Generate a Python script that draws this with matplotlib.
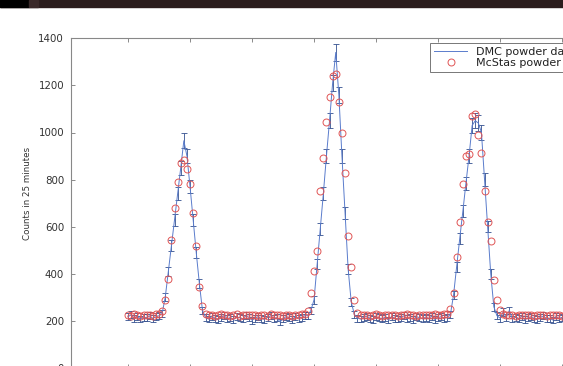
import numpy as np
import matplotlib
matplotlib.use("Agg")
import matplotlib.pyplot as plt
from matplotlib.patches import Rectangle

# scan grid: 2theta from 40.00 in steps of 0.05 deg
two_theta_start = 40.0
two_theta_step = 0.05

# DMC measured counts (25 min per point)
dmc_counts = [
    218, 226, 212, 220, 208, 216, 214, 221, 210, 218,
    222, 232, 300, 410, 520, 630, 740, 850, 965, 900, 770, 630, 490, 360, 245, 215,
    208, 219, 212, 205, 216, 222, 210, 214, 206, 218, 213, 209, 221, 215, 203, 212,
    218, 210, 207, 216, 222, 211, 214, 196, 209, 218, 213, 205, 219, 212, 216, 222,
    222, 245, 290, 440, 590, 740, 900, 1050, 1210, 1340, 1160, 900, 660, 420, 280, 228, 212,
    208, 215, 220, 211, 206, 218, 213, 209, 216, 204, 219, 212, 208, 215, 221, 210,
    213, 207, 218, 214, 209, 216, 211, 220, 206, 214, 218, 212,
    215, 228, 310, 430, 550, 665, 785, 900, 1030, 1050, 1040, 1000, 800, 600, 400, 260, 222, 212,
    238, 214, 245, 208, 216, 211, 219, 205, 213, 217, 210, 206, 215, 221, 209, 212,
    204, 218, 211, 215,
]

# McStas simulated counts on the same grid
mcstas_counts = [
    226, 222, 228, 224, 221, 227, 223, 226, 222, 228,
    228, 240, 290, 380, 545, 680, 790, 870, 885, 845, 783, 658, 520, 345, 262, 228,
    224, 227, 222, 225, 229, 223, 226, 221, 224, 228, 222, 225, 227, 223, 226, 224,
    221, 227, 225, 222, 228, 224, 223, 226, 222, 227, 224, 221, 226, 225, 228, 230,
    240, 320, 410, 495, 750, 890, 1045, 1150, 1240, 1250, 1130, 1000, 830, 560, 430, 290, 235,
    226, 223, 227, 222, 225, 228, 224, 221, 226, 223, 227, 225, 222, 226, 224, 228,
    223, 225, 221, 226, 224, 227, 223, 225, 228, 224, 226, 229,
    228, 250, 320, 470, 620, 780, 900, 910, 1070, 1080, 990, 915, 750, 620, 540, 375, 290, 245,
    230, 227, 224, 226, 222, 225, 227, 223, 226, 224, 221, 225, 223, 226, 222, 224,
    227, 223, 225, 222,
]

legend_labels = ["DMC powder data", "McStas powder data"]
y_ticks = [0, 200, 400, 600, 800, 1000, 1200, 1400]
x_ticks = [40, 41, 42, 43, 44, 45, 46, 47, 48]

two_theta = np.round(two_theta_start + two_theta_step * np.arange(len(dmc_counts)), 3)
dmc = np.array(dmc_counts, dtype=float)
mcstas = np.array(mcstas_counts, dtype=float)
dmc_err = np.sqrt(dmc)

W, H = 563, 366
fig = plt.figure(figsize=(W / 100, H / 100), dpi=100)

# dark strip along the top edge
fig.patches.append(Rectangle((0, 1 - 7 / H), 1, 7 / H, transform=fig.transFigure,
                             color="#2b1d1d", zorder=0))
fig.patches.append(Rectangle((0, 1 - 7 / H), 29 / W, 7 / H, transform=fig.transFigure,
                             color="#000000", zorder=1))
fig.patches.append(Rectangle((29 / W, 1 - 7 / H), 9 / W, 7 / H, transform=fig.transFigure,
                             color="#3a2a2a", zorder=1))

left_px, top_px, bottom_px = 71, 38.3, 368
px_per_deg = 62
x_min, x_max = 39.08, 48.5
ax = fig.add_axes([left_px / W, 1 - bottom_px / H,
                   (x_max - x_min) * px_per_deg / W, (bottom_px - top_px) / H])

ax.errorbar(two_theta, dmc, yerr=dmc_err, fmt="none", ecolor="#33508f",
            elinewidth=0.6, capsize=2.5, capthick=0.6, zorder=2)
ax.plot(two_theta, dmc, color="#5a7ccc", lw=0.7, label=legend_labels[0], zorder=3)
ax.plot(two_theta, mcstas, "o", mfc="none", mec="#e05555", mew=0.7, ms=5,
        label=legend_labels[1], zorder=4)

ax.set_xlim(x_min, x_max)
ax.set_ylim(0, 1400)
ax.set_yticks(y_ticks)
ax.set_xticks(x_ticks)
ax.tick_params(direction="in", length=3, width=0.6, color="#777777",
               top=True, right=True, labelsize=7.4, labelcolor="#333333", pad=5)
ax.tick_params(axis="x", labelbottom=False)
for s in ax.spines.values():
    s.set_color("#888888")
    s.set_linewidth(0.8)

fig.text(27.5 / W, 1 - 193.5 / H, "Counts in 25 minutes", rotation=90,
         ha="center", va="center", fontsize=6.3, color="#333333")

leg = ax.legend(loc="upper left", bbox_to_anchor=(430 / W, 1 - 43 / H),
                bbox_transform=fig.transFigure, borderaxespad=0, fontsize=8,
                handlelength=3.0, handletextpad=0.8, labelspacing=0.12,
                borderpad=0.35, fancybox=False, framealpha=1)
leg.get_frame().set_edgecolor("#777777")
leg.get_frame().set_linewidth(0.7)
for t in leg.get_texts():
    t.set_color("#222222")

fig.savefig("out.png", dpi=100)
